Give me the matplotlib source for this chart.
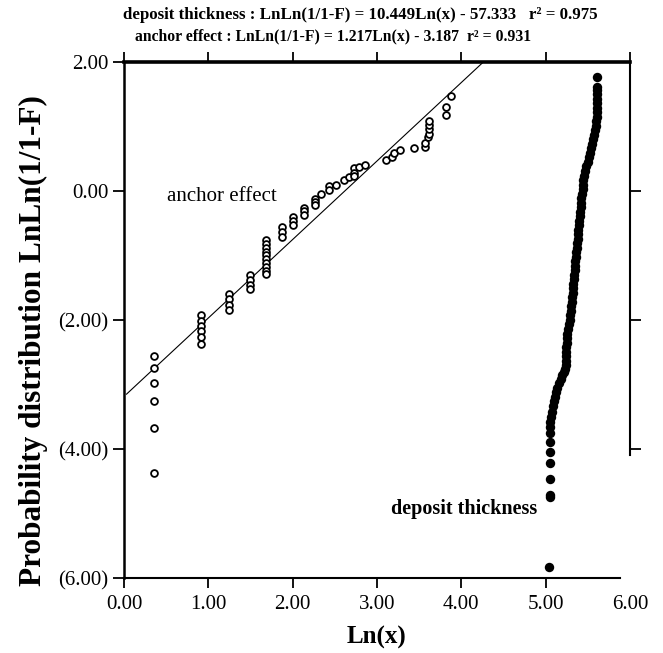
import numpy as np
import matplotlib
matplotlib.use("Agg")
import matplotlib.pyplot as plt

plt.rcParams['font.family'] = ['Liberation Serif', 'DejaVu Serif']

# anchor effect (open circles)
anchor_x = [0.355] * 6 + [0.91] * 6 + [1.24] * 4 + [1.50] * 4 + [1.69] * 10 \
    + [1.87] * 3 + [2.01] * 3 + [2.13] * 3 + [2.26] * 3 \
    + [2.34, 2.43, 2.43, 2.52, 2.61, 2.67, 2.73, 2.73, 2.73, 2.79, 2.86,
       3.11, 3.18, 3.20, 3.27, 3.44, 3.57, 3.57, 3.60, 3.62, 3.62, 3.62, 3.62,
       3.82, 3.82, 3.88]
anchor_y = [-2.56, -2.74, -2.97, -3.26, -3.67, -4.37,
            -1.93, -2.01, -2.09, -2.17, -2.26, -2.38,
            -1.59, -1.68, -1.77, -1.85,
            -1.31, -1.38, -1.45, -1.52,
            -0.76, -0.82, -0.88, -0.94, -1.00, -1.06, -1.12, -1.18, -1.24, -1.29,
            -0.56, -0.64, -0.71,
            -0.40, -0.47, -0.53,
            -0.26, -0.31, -0.37,
            -0.12, -0.17, -0.22,
            -0.05, 0.07, 0.01, 0.10, 0.17, 0.21, 0.35, 0.28, 0.23, 0.37, 0.41,
            0.48, 0.53, 0.59, 0.63, 0.66, 0.68, 0.75, 0.83, 0.89, 0.96, 1.03, 1.08,
            1.18, 1.30, 1.47]

# deposit thickness (filled circles)
dep_x = [5.04, 5.05, 5.05, 5.05, 5.05, 5.05, 5.05, 5.05, 5.05,
         5.055, 5.065, 5.075, 5.085, 5.10, 5.11, 5.125, 5.14, 5.16, 5.18, 5.20,
         5.22, 5.235, 5.24, 5.24, 5.24, 5.24, 5.245, 5.25, 5.255, 5.26, 5.27,
         5.28, 5.29, 5.295, 5.30, 5.305, 5.31, 5.315, 5.32, 5.325, 5.33, 5.335,
         5.34, 5.345, 5.35, 5.355, 5.36, 5.365, 5.37, 5.375, 5.38, 5.385, 5.39,
         5.395, 5.40, 5.405, 5.41, 5.415, 5.42, 5.425, 5.43, 5.44, 5.445, 5.45,
         5.46, 5.47, 5.485, 5.50, 5.51, 5.525, 5.54, 5.55, 5.565, 5.575, 5.585,
         5.595, 5.60, 5.605, 5.605, 5.61, 5.61, 5.61, 5.615, 5.615, 5.615, 5.615]
dep_y = [-5.83, -4.75, -4.71, -4.46, -4.22, -4.05, -3.89, -3.75, -3.66,
         -3.58, -3.50, -3.42, -3.34, -3.26, -3.19, -3.12, -3.05, -2.98, -2.92, -2.86,
         -2.81, -2.76, -2.70, -2.63, -2.56, -2.49, -2.42, -2.35, -2.28, -2.21, -2.14,
         -2.07, -2.00, -1.93, -1.86, -1.79, -1.72, -1.65, -1.58, -1.51, -1.44, -1.37,
         -1.30, -1.23, -1.16, -1.09, -1.02, -0.95, -0.88, -0.81, -0.74, -0.67, -0.60,
         -0.53, -0.46, -0.39, -0.32, -0.25, -0.18, -0.11, -0.04, 0.03, 0.10, 0.17,
         0.24, 0.31, 0.38, 0.45, 0.52, 0.59, 0.66, 0.73, 0.80, 0.87, 0.94,
         1.01, 1.08, 1.15, 1.22, 1.29, 1.36, 1.43, 1.50, 1.57, 1.61, 1.77]

# fitted line for anchor effect
slope, intercept = 1.217, -3.187
fit_x0 = 0.03

yticks = [2, 0, -2, -4, -6]
ytick_labels = ['2.00', '0.00', '(2.00)', '(4.00)', '(6.00)']
xticks = [0, 1, 2, 3, 4, 5, 6]
xtick_labels = ['0.00', '1.00', '2.00', '3.00', '4.00', '5.00', '6.00']

fig = plt.figure(figsize=(6.63, 6.53), dpi=100)
ax = fig.add_axes([0.187, 0.115, 0.763, 0.790])

fit_x1 = (2 - intercept) / slope
ax.plot([fit_x0, fit_x1], [slope * fit_x0 + intercept, slope * fit_x1 + intercept],
        color='black', lw=0.8, zorder=2)

ax.scatter(anchor_x, anchor_y, s=24, facecolors='white', edgecolors='black',
           linewidths=1.3, zorder=3)
ax.scatter(dep_x, dep_y, s=46, color='black', linewidths=0, zorder=3)

ax.set_xlim(0, 6)
ax.set_ylim(-6, 2)
ax.set_xticks(xticks)
ax.set_xticklabels(xtick_labels, fontsize=15)
ax.set_yticks(yticks)
ax.set_yticklabels(ytick_labels, fontsize=15)
ax.tick_params(axis='x', direction='out', length=7, width=1.3, pad=5,
               top=True)
ax.tick_params(axis='y', direction='out', length=8, width=1.3, pad=3,
               right=True)
ax.xaxis.get_major_ticks()[-1].tick1line.set_visible(False)
ax.yaxis.get_major_ticks()[-1].tick2line.set_visible(False)
ax.yaxis.get_major_ticks()[0].tick2line.set_visible(False)

ax.spines['top'].set_linewidth(2.6)
ax.spines['left'].set_linewidth(1.8)
ax.spines['bottom'].set_linewidth(1.5)
ax.spines['right'].set_linewidth(1.5)
ax.spines['right'].set_bounds(-4.1, 2)
ax.spines['bottom'].set_bounds(0, 5.88)

ax.text(0.51, -0.09, 'anchor effect', fontsize=15, va='center', ha='left')
ax.text(4.9, -4.93, 'deposit thickness', fontsize=14.5, fontweight='bold',
        va='center', ha='right')

ax.set_xlabel('Ln(x)', fontsize=18, fontweight='bold', labelpad=9)
fig.text(0.05, 0.479, 'Probability distribution LnLn(1/1-F)', fontsize=22.5,
         fontweight='bold', rotation=90, ha='center', va='center')

fig.text(0.185, 0.977, 'deposit thickness : LnLn(1/1-F) = 10.449Ln(x) - 57.333   r² = 0.975',
         fontsize=12.2, fontweight='bold', va='center', ha='left')
fig.text(0.204, 0.944, 'anchor effect : LnLn(1/1-F) = 1.217Ln(x) - 3.187  r² = 0.931',
         fontsize=11.3, fontweight='bold', va='center', ha='left')

fig.savefig('out.png', dpi=100)
